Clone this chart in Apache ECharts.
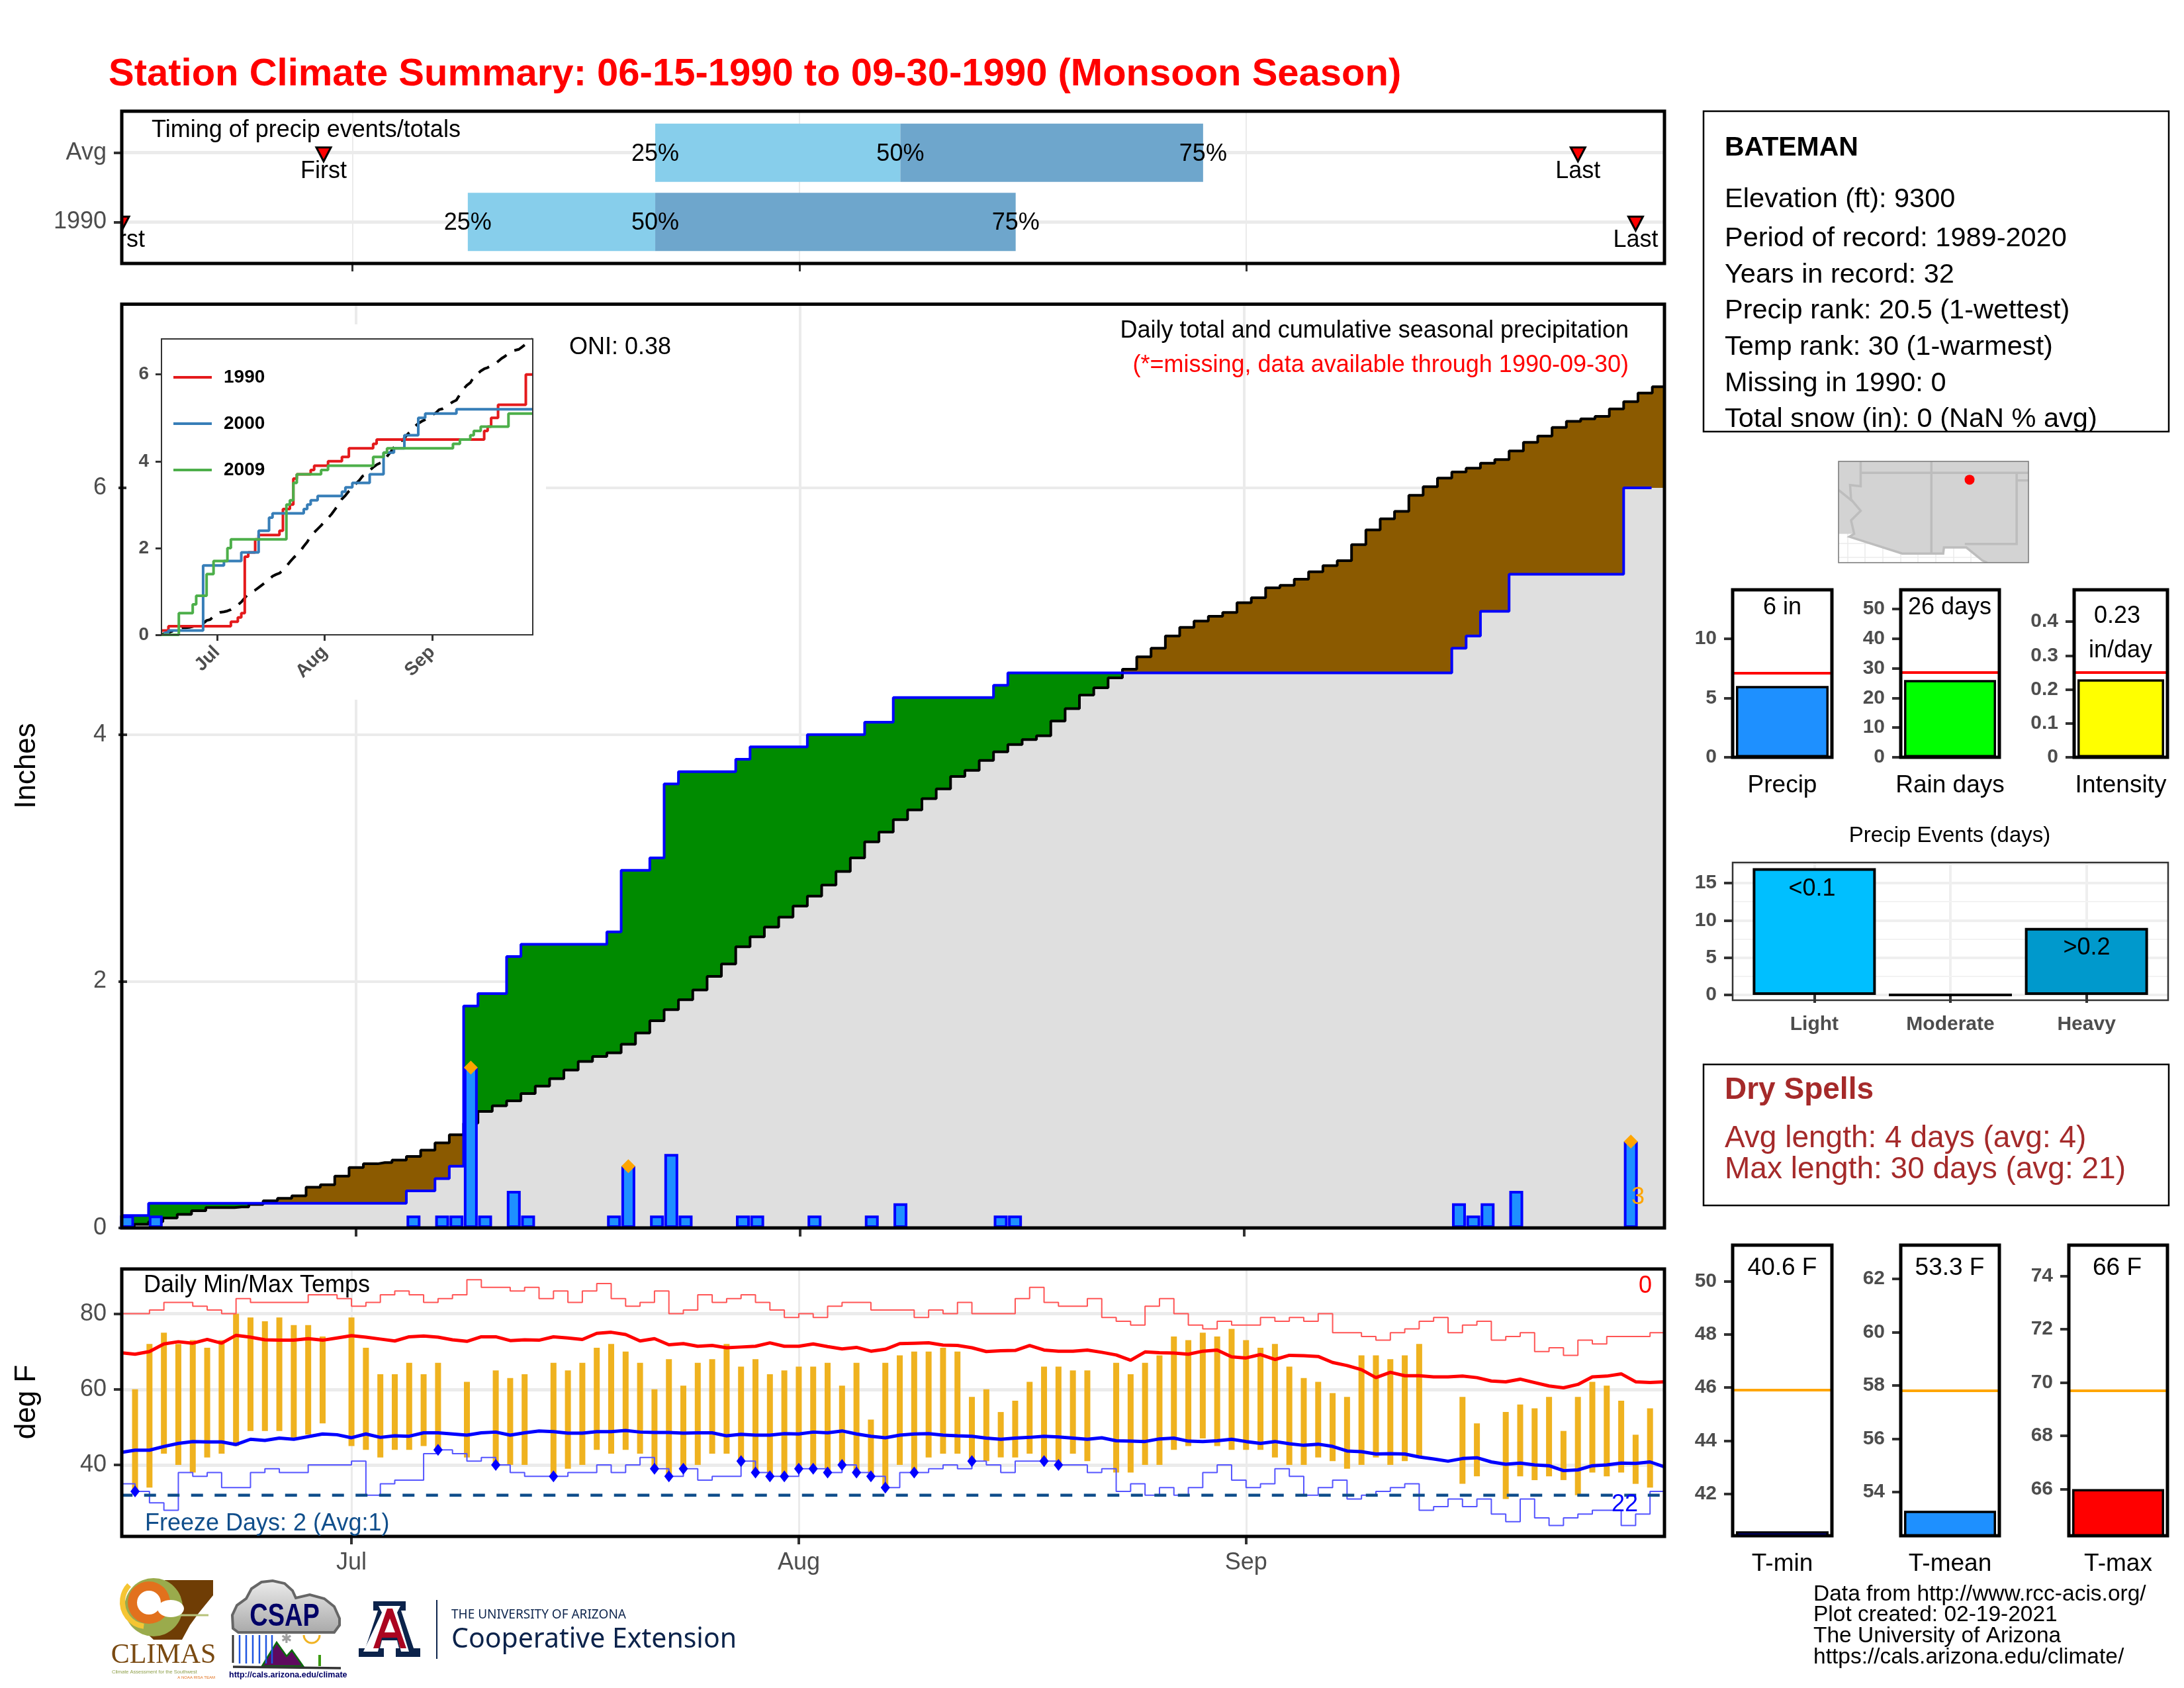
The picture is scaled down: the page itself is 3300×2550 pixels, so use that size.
<!DOCTYPE html>
<html>
<head>
<meta charset="utf-8">
<title>Station Climate Summary</title>
<script src="https://cdn.jsdelivr.net/npm/echarts@6/dist/echarts.min.js"></script>
<style>
html,body{margin:0;padding:0;background:#fff}
#chart{width:3300px;height:2550px}
</style>
</head>
<body>
<div id="chart"></div>
<script>
// day index 0 = Jun 15, 107 = Sep 30
var monthTicks = [16, 47, 78];
var monthNames = ["Jul", "Aug", "Sep"];

// daily precip (in)
var precipDaily = [
  0.1,0,0.1,0,0,0,0,0,0,0,
  0,0,0,0,0,0,0,0,0,0,
  0.1,0,0.1,0.1,1.3,0.1,0,0.3,0.1,0,
  0,0,0,0,0.1,0.5,0,0.1,0.6,0.1,
  0,0,0,0.1,0.1,0,0,0,0.1,0,
  0,0,0.1,0,0.2,0,0,0,0,0,
  0,0.1,0.1,0,0,0,0,0,0,0,
  0,0,0,0,0,0,0,0,0,0,
  0,0,0,0,0,0,0,0,0,0,
  0,0,0,0.2,0.1,0.2,0,0.3,0,0,
  0,0,0,0,0,0.7,0,0
];
var precipCum1990 = [
  0.1,0.1,0.2,0.2,0.2,0.2,0.2,0.2,0.2,0.2,
  0.2,0.2,0.2,0.2,0.2,0.2,0.2,0.2,0.2,0.2,
  0.3,0.3,0.4,0.5,1.8,1.9,1.9,2.2,2.3,2.3,
  2.3,2.3,2.3,2.3,2.4,2.9,2.9,3.0,3.6,3.7,
  3.7,3.7,3.7,3.8,3.9,3.9,3.9,3.9,4.0,4.0,
  4.0,4.0,4.1,4.1,4.3,4.3,4.3,4.3,4.3,4.3,
  4.3,4.4,4.5,4.5,4.5,4.5,4.5,4.5,4.5,4.5,
  4.5,4.5,4.5,4.5,4.5,4.5,4.5,4.5,4.5,4.5,
  4.5,4.5,4.5,4.5,4.5,4.5,4.5,4.5,4.5,4.5,
  4.5,4.5,4.5,4.7,4.8,5.0,5.0,5.3,5.3,5.3,
  5.3,5.3,5.3,5.3,5.3,6.0,6.0,6.0
];
var precipCumAvg = [
  0.01,0.03,0.05,0.08,0.11,0.14,0.165,0.165,0.17,0.19,
  0.22,0.24,0.26,0.33,0.35,0.42,0.49,0.52,0.53,0.55,
  0.58,0.63,0.69,0.755,0.85,0.945,0.99,1.03,1.09,1.15,
  1.21,1.28,1.35,1.39,1.42,1.49,1.58,1.68,1.77,1.85,
  1.93,2.04,2.14,2.28,2.36,2.44,2.52,2.61,2.69,2.78,
  2.89,3.00,3.13,3.21,3.31,3.39,3.48,3.56,3.66,3.71,
  3.79,3.86,3.92,3.96,3.99,4.11,4.21,4.32,4.38,4.46,
  4.53,4.63,4.70,4.80,4.87,4.92,4.96,4.99,5.07,5.11,
  5.19,5.21,5.26,5.32,5.37,5.41,5.54,5.66,5.75,5.81,
  5.94,6.01,6.08,6.13,6.16,6.20,6.23,6.30,6.37,6.42,
  6.49,6.54,6.56,6.58,6.64,6.70,6.77,6.82
];
var precipCum2000 = [
  0,0.05,0.1,0.1,0.1,0.1,0.1,0.1,0.1,0.1,
  0.1,0.1,1.6,1.6,1.6,1.6,1.6,1.6,1.7,1.7,
  1.7,1.7,1.7,1.9,1.9,1.9,1.9,1.9,2.4,2.4,
  2.4,2.7,2.8,2.8,2.8,2.8,2.8,2.8,2.8,2.8,
  2.8,2.9,3.0,3.1,3.1,3.2,3.2,3.2,3.2,3.2,
  3.2,3.2,3.3,3.4,3.4,3.5,3.5,3.5,3.5,3.5,
  3.7,3.7,3.7,3.7,4.2,4.2,4.2,4.3,4.3,4.3,
  4.6,4.6,4.6,4.6,5.0,5.0,5.1,5.1,5.1,5.1,
  5.1,5.1,5.1,5.1,5.1,5.2,5.2,5.2,5.2,5.2,
  5.2,5.2,5.2,5.2,5.2,5.2,5.2,5.2,5.2,5.2,
  5.2,5.2,5.2,5.2,5.2,5.2,5.2,5.2
];
var precipCum2009 = [
  0,0,0,0,0,0.5,0.5,0.5,0.5,0.7,
  0.9,0.9,0.9,1.4,1.4,1.7,1.7,1.7,1.7,2.0,
  2.2,2.2,2.2,2.2,2.2,2.2,2.2,2.2,2.2,2.2,
  2.2,2.2,2.2,2.2,2.2,2.2,3.0,3.1,3.5,3.7,
  3.7,3.7,3.7,3.7,3.7,3.7,3.8,3.8,3.9,3.9,
  3.9,3.9,3.9,3.9,3.9,3.9,3.9,3.9,3.9,3.9,
  3.9,4.1,4.1,4.1,4.2,4.3,4.3,4.3,4.3,4.3,
  4.3,4.3,4.3,4.3,4.3,4.3,4.3,4.3,4.3,4.3,
  4.3,4.3,4.3,4.3,4.4,4.4,4.5,4.5,4.5,4.6,
  4.7,4.7,4.8,4.8,4.8,4.8,4.8,4.8,4.8,4.8,
  5.1,5.1,5.1,5.1,5.1,5.1,5.1,5.1
];
var extremeDays = [24, 35, 105];

// timing strip
var timingRows = ["Avg", "1990"];
var timingFirst = [14, 0];
var timingQ25 = [37, 24];
var timingQ50 = [54, 37];
var timingQ75 = [75, 62];
var timingLast = [101, 105];

// daily temps (F), null = missing
var tmax = [
  null,60,72,75,72,73,71,73,80,79,
  78,79,77,77,74,null,79,71,64,64,
  67,64,67,null,62,null,65,63,64,null,
  67,65,67,71,72,70,67,60,68,61,
  67,68,72,66,68,64,65,66,66,67,
  61,67,52,67,69,70,70,71,70,58,
  60,54,57,62,66,66,65,65,null,67,
  64,67,69,74,73,75,74,76,73,71,
  72,66,63,62,59,58,69,69,68,69,
  72,null,null,58,51,null,54,56,55,58,
  49,58,62,61,57,48,55,null
];
var tmin = [
  null,33,34,43,40,38,42,43,45,49,
  49,49,47,48,51,null,45,44,42,44,
  44,45,44,null,42,null,40,40,40,null,
  37,39,40,44,43,44,43,39,37,39,
  40,43,43,41,38,37,37,39,39,38,
  40,38,37,34,40,38,42,43,43,41,
  41,42,42,43,41,40,43,41,null,38,
  38,40,40,44,45,47,45,44,44,44,
  42,40,40,42,41,39,40,42,40,41,
  42,null,null,35,37,null,31,37,36,37,
  36,32,38,37,38,35,34,null
];
var tmaxAvg = [
  69.7,69.3,70,72,72.6,72.2,73.2,72.2,74.3,73.8,
  73.1,73,73,73.4,73,73.6,74.2,73.8,73.3,72.8,
  73.9,74.1,73.8,73.1,72.7,73.9,73.9,72.9,73.1,73,
  73.9,73.6,73.2,74.8,75.1,74.5,72.8,73.4,71.8,72.1,
  71.4,71.6,71,71.2,71.4,72.3,71.4,71.4,72,71.3,
  70.7,71.1,70.1,70.6,72.1,72.2,72.3,71.7,71.6,71,
  70,70.2,70.3,71.6,70.4,70.1,70.1,70.4,69.8,69.1,
  67.7,69.9,69.7,69.6,69.3,70.1,70.4,68.6,68.3,69.2,
  67.9,69,68.9,68.7,67.1,66.3,65.2,63.1,64.5,63.6,
  63.6,63.3,63.3,63.5,63.1,62.2,62,62.7,61.8,60.9,
  60.4,61.3,63.3,63.5,64.1,62,61.8,62
];
var tminAvg = [
  43.3,43.9,43.9,44.9,45.7,46.2,46.1,46.1,45.4,46.8,
  46.5,47.1,46.8,47.5,48.2,48,47.2,48.2,47.3,47.7,
  47.6,48.5,48.5,48.2,47.9,48.5,48.7,47.9,48.5,49,
  48.8,48.4,48.4,48.8,48.8,49.1,48.7,48.6,48.6,48.4,
  48.5,48.5,47.7,48.1,47.9,47.9,48.3,48.2,48.7,48.5,
  49,48.2,47.6,47.2,47.9,48.2,48.3,47.9,47.7,47.6,
  47.1,46.8,47.1,47.3,47.6,47.4,47.1,46.8,47.2,46.4,
  46.3,46.2,46.9,47.1,46.3,46.2,46.4,46.8,46.2,45.7,
  46.2,45.6,45.2,45.5,44.9,43.7,43.5,42.9,43,42.9,
  42.1,41.6,41,41.7,41.9,40.8,40.2,40.5,40,39.8,
  38.5,38.7,39.8,40,40.5,40.4,40.8,39.5
];
var tmaxRecord = [
  80,80,81,83,83,82,81,80,84,83,
  83,83,83,85,85,84,82,83,85,86,
  85,83,84,85,89,87,87,86,87,84,
  86,83,86,88,84,82,83,86,80,81,
  85,83,84,85,83,81,79,80,79,82,
  83,83,81,81,81,79,81,80,83,80,
  80,80,84,87,83,82,82,84,79,78,
  77,82,84,80,77,76,78,77,77,79,
  78,79,78,80,75,75,74,73,75,76,
  78,79,75,77,78,73,74,75,70,71,
  69,73,72,74,74,74,75,75
];
var tminRecord = [
  35,33,30,28,38,37,38,34,34,38,
  39,38,38,40,40,40,41,32,35,36,
  36,43,44,43,41,42,40,38,37,37,
  37,38,38,40,38,40,42,39,37,39,
  36,37,37,41,38,37,37,39,39,38,
  40,38,37,34,38,38,39,40,39,41,
  40,38,41,41,41,40,40,38,39,33,
  35,32,34,32,34,38,40,36,34,35,
  39,37,32,34,36,31,32,33,34,35,
  28,29,31,29,31,27,25,31,26,24,
  26,27,28,28,24,27,33,33
];
var recordLowDays = [1,22,26,30,37,38,39,43,44,45,46,47,48,49,50,51,52,53,55,59,64,65];
var freezeLine = 32;

// right hand panels
var summaryNames = ["Precip", "Rain days", "Intensity"];
var summaryValues = [6, 26, 0.23];
var summaryAvgs = [7.1, 28.5, 0.249];
var summaryColors = ["#1E90FF", "#00FF00", "#FFFF00"];
var eventNames = ["Light", "Moderate", "Heavy"];
var eventValues = [17, 0, 9];
var eventColors = ["#00BFFF", "#00BFFF", "#0099CC"];
var eventMinor = [2.5, 7.5, 12.5, 17.5];
var tempNames = ["T-min", "T-mean", "T-max"];
var tempValues = [40.6, 53.3, 66];
var tempAvgs = [45.9, 57.82, 69.7];
var tempColors = ["#0000FF", "#1E90FF", "#FF0000"];

// locator map, degrees
var mapStation = [-106.34, 36.5];
var mapLand = [[-115.64,37.8],[-102.16,37.8],[-102.16,30.61],[-105.09,30.61],[-105.44,30.77],[-106.34,31.53],[-106.57,31.69],[-108.16,31.69],[-108.21,31.26],[-111.12,31.26],[-114.87,32.45],[-114.53,32.66],[-115.64,32.66]];
var mapLines = [
  [[-115.64,35.77],[-114.64,34.96]],
  [[-114.07,37.8],[-114.07,36.04],[-114.82,36.12],[-114.75,35.1],[-114.07,34.29],[-114.75,33.61],[-114.53,32.66],[-114.87,32.45],[-111.12,31.26],[-108.21,31.26],[-108.16,31.69],[-106.57,31.69],[-105.44,30.77],[-105.09,30.61]],
  [[-114.07,36.99],[-102.16,36.99]],
  [[-109.05,37.8],[-109.05,31.26]],
  [[-103,36.99],[-103,31.94],[-106.68,31.94]],
  [[-103,36.45],[-102.16,36.45]]
];
var mapGridLon = [-115,-113.75,-112.5,-111.25,-110,-108.75,-107.5,-106.25];
var mapGridLat = [32,31];

var font = '"Liberation Sans"';
var grayText = "#4D4D4D";
var gridGray = "#EBEBEB";

function box(l, t, r, b) {
  return { left: l, top: t, width: r - l, height: b - t };
}
var layout = {
  top: box(184, 168, 2515, 398),
  main: box(184, 459.5, 2515, 1855),
  bottom: box(184, 1917, 2515, 2321),
  inset: box(244, 512, 805, 959),
  map: box(2778, 697, 3065, 850),
  events: box(2618, 1303, 3276, 1511),
  summary: [box(2618, 891, 2768, 1144), box(2872, 891, 3021, 1144), box(3134, 891, 3275, 1144)],
  temp: [box(2618, 1881, 2768, 2320), box(2872, 1881, 3021, 2320), box(3126, 1881, 3275, 2320)]
};
var summaryScale = [{ max: 14.1, ticks: [0, 5, 10] }, { max: 56.4, ticks: [0, 10, 20, 30, 40, 50] }, { max: 0.494, ticks: [0, 0.1, 0.2, 0.3, 0.4] }];
var tempScale = [
  { min: 40.43, max: 51.35, ticks: [42, 44, 46, 48, 50] },
  { min: 52.36, max: 63.27, ticks: [54, 56, 58, 60, 62] },
  { min: 64.25, max: 75.16, ticks: [66, 68, 70, 72, 74] }
];

var grids = [], xAxes = [], yAxes = [], series = [], gfx = [];

function addGrid(b) {
  grids.push(b);
  return grids.length - 1;
}
function pairs(vals) {
  return vals.map(function(v, i) { return [i, v]; });
}
// extend a step line past both panel edges
function padded(vals) {
  var out = pairs(vals);
  out.unshift([-1, vals[0]]);
  out.push([108, vals[vals.length - 1]]);
  return out;
}
function txt(text, x, y, size, color, extra) {
  extra = extra || {};
  return {
    type: "text", z: 60, silent: true, x: x, y: y + 3,
    scaleY: extra.scaleY || 1,
    style: {
      text: text, fill: color || "#000",
      font: (extra.bold ? "bold " : "") + size + "px " + (extra.family || font),
      textAlign: extra.align || "left", textVerticalAlign: "middle"
    },
    rotation: extra.rotation || 0
  };
}
function frame(b, width, color) {
  return {
    type: "rect", z: 50, silent: true,
    shape: { x: b.left, y: b.top, width: b.width, height: b.height },
    style: { fill: "none", stroke: color || "#000", lineWidth: width }
  };
}

// ---------- timing strip
var gTop = addGrid(layout.top);
xAxes.push({
  gridIndex: gTop, type: "value", min: 0, max: 107,
  axisLine: { show: false }, axisLabel: { show: false },
  axisTick: { show: true, length: 12, customValues: monthTicks, lineStyle: { color: "#333", width: 3 } },
  splitLine: { show: true, lineStyle: { color: gridGray, width: 2 } }
});
yAxes.push({
  gridIndex: gTop, type: "value", min: 0.4, max: 2.6, inverse: true,
  axisLine: { show: false },
  axisTick: { show: true, length: 12, customValues: [1, 2], lineStyle: { color: "#333", width: 4 } },
  axisLabel: { customValues: [1, 2], fontSize: 36, color: grayText, margin: 23, formatter: function(v) { return timingRows[v - 1]; } },
  splitLine: { show: true, lineStyle: { color: gridGray, width: 5 } }
});
series.push({
  type: "custom", xAxisIndex: gTop, yAxisIndex: gTop, z: 3, clip: true, silent: true,
  data: timingRows.map(function(n, i) { return [i + 1, timingFirst[i], timingQ25[i], timingQ50[i], timingQ75[i], timingLast[i]]; }),
  encode: { x: [1, 5], y: 0 },
  renderItem: function(params, api) {
    var row = api.value(0);
    function span(a, b, color) {
      var p = api.coord([a, row - 0.42]), q = api.coord([b, row + 0.42]);
      return { type: "rect", shape: { x: p[0], y: p[1], width: q[0] - p[0], height: q[1] - p[1] }, style: { fill: color } };
    }
    function label(text, x, dy) {
      var p = api.coord([x, row]);
      return { type: "text", z2: 5, style: { text: text, x: p[0], y: p[1] + dy, fill: "#000", font: "36px " + font, align: "center", verticalAlign: "middle" } };
    }
    function marker(x) {
      var p = api.coord([x, row]);
      return { type: "polygon", z2: 5, shape: { points: [[p[0] - 11, p[1] - 8], [p[0] + 11, p[1] - 8], [p[0], p[1] + 13]] }, style: { fill: "#FF0000", stroke: "#000", lineWidth: 3 } };
    }
    return {
      type: "group",
      children: [
        span(api.value(2), api.value(3), "#87CEEB"),
        span(api.value(3), api.value(4), "#6EA6CC"),
        label("25%", api.value(2), 2),
        label("50%", api.value(3), 2),
        label("75%", api.value(4), 2),
        marker(api.value(1)), marker(api.value(5)),
        label("First", api.value(1), 28),
        label("Last", api.value(5), 28)
      ]
    };
  }
});
gfx.push(frame(layout.top, 5));
gfx.push(txt("Timing of precip events/totals", 229, 194, 36));

// ---------- main precip panel
var gMain = addGrid(layout.main);
xAxes.push({
  gridIndex: gMain, type: "value", min: -0.37, max: 107.35,
  axisLine: { show: false }, axisLabel: { show: false },
  axisTick: { show: true, length: 13, customValues: monthTicks, lineStyle: { color: "#333", width: 4 } },
  splitLine: { show: true, lineStyle: { color: gridGray, width: 4 } }
});
yAxes.push({
  gridIndex: gMain, type: "value", min: 0, max: 7.49,
  axisLine: { show: false },
  axisTick: { show: true, length: 13, customValues: [0, 2, 4, 6], lineStyle: { color: "#333", width: 4 } },
  axisLabel: { customValues: [0, 2, 4, 6], fontSize: 36, color: grayText, margin: 23 },
  splitLine: { show: true, lineStyle: { color: gridGray, width: 4 } }
});
var cumFloor = precipCumAvg.map(function(v, i) { return Math.min(v, precipCum1990[i]); });
function mainArea(name, vals, color, z) {
  series.push({
    name: name, type: "line", xAxisIndex: gMain, yAxisIndex: gMain, step: "middle", z: z,
    showSymbol: false, silent: true, data: padded(vals),
    lineStyle: { width: 0 }, areaStyle: { color: color, opacity: 1 }
  });
}
mainArea("deficit", precipCumAvg, "#8B5A00", 2);
mainArea("surplus", precipCum1990, "#008B00", 3);
mainArea("floor", cumFloor, "#DFDFDF", 4);
series.push({
  name: "avg cumulative", type: "line", xAxisIndex: gMain, yAxisIndex: gMain, step: "middle", z: 5,
  showSymbol: false, silent: true, data: padded(precipCumAvg), lineStyle: { color: "#000", width: 4 }
});
series.push({
  name: "daily precip", type: "bar", xAxisIndex: gMain, yAxisIndex: gMain, z: 6, barWidth: 21, silent: true,
  data: precipDaily.map(function(v, i) { return [i, v > 0 ? v : null]; }),
  itemStyle: { color: "#1E90FF", borderColor: "#0000FF", borderWidth: 4 }
});
series.push({
  name: "cumulative 1990", type: "line", xAxisIndex: gMain, yAxisIndex: gMain, step: "middle", z: 7,
  showSymbol: false, silent: true,
  data: [[-1, precipCum1990[0]]].concat(pairs(precipCum1990).slice(0, 107), [[106.45, precipCum1990[106]]]),
  lineStyle: { color: "#0000FF", width: 4 }
});
series.push({
  name: "extreme days", type: "scatter", xAxisIndex: gMain, yAxisIndex: gMain, z: 8, symbol: "diamond", symbolSize: 21, silent: true,
  data: extremeDays.map(function(d) { return [d, precipDaily[d]]; }),
  itemStyle: { color: "#FFA500", opacity: 1 }
});
// keep gridlines away from the inset
gfx.push({ type: "rect", z: 1, silent: true, shape: { x: 191, y: 490, width: 634, height: 567 }, style: { fill: "#fff" } });
gfx.push(frame(layout.main, 5));
gfx.push(txt("ONI: 0.38", 860, 522, 36));
gfx.push(txt("Daily total and cumulative seasonal precipitation", 2461, 497, 36, "#000", { align: "right" }));
gfx.push(txt("(*=missing, data available through 1990-09-30)", 2461, 549, 36, "#FF0000", { align: "right" }));
gfx.push(txt("3", 2475, 1806, 36, "#FFA500", { align: "center" }));
gfx.push(txt("Inches", 41, 1154, 44, "#000", { align: "center", rotation: Math.PI / 2 }));
gfx.push(txt("deg F", 41, 2115, 44, "#000", { align: "center", rotation: Math.PI / 2 }));

// ---------- inset
var gInset = addGrid(layout.inset);
xAxes.push({
  gridIndex: gInset, type: "value", min: 0, max: 107, z: 5,
  axisLine: { show: false }, splitLine: { show: false },
  axisTick: { show: true, length: 9, customValues: monthTicks, lineStyle: { color: "#333", width: 3 } },
  axisLabel: {
    customValues: monthTicks, fontSize: 28, fontWeight: "bold", color: grayText, rotate: 45, margin: 22,
    formatter: function(v) { return monthNames[monthTicks.indexOf(v)]; }
  }
});
yAxes.push({
  gridIndex: gInset, type: "value", min: 0, max: 6.82, z: 5,
  axisLine: { show: false }, splitLine: { show: false },
  axisTick: { show: true, length: 9, customValues: [0, 2, 4, 6], lineStyle: { color: "#333", width: 3 } },
  axisLabel: { customValues: [0, 2, 4, 6], fontSize: 28, fontWeight: "bold", color: grayText, margin: 19 }
});
function insetLine(name, vals, color, z) {
  series.push({
    name: name, type: "line", xAxisIndex: gInset, yAxisIndex: gInset, step: "end", z: z, color: color,
    showSymbol: false, symbol: "none", silent: true, data: pairs(vals), lineStyle: { color: color, width: 4 }
  });
}
series.push({
  name: "Avg", type: "line", xAxisIndex: gInset, yAxisIndex: gInset, z: 6,
  showSymbol: false, symbol: "none", silent: true, data: pairs(precipCumAvg),
  lineStyle: { color: "#000", width: 4, type: [18, 14] }
});
insetLine("1990", precipCum1990, "#E41A1C", 7);
insetLine("2000", precipCum2000, "#377EB8", 8);
insetLine("2009", precipCum2009, "#4DAF4A", 9);
gfx.push(frame(layout.inset, 2, "#333"));

// ---------- temperature panel
var gBottom = addGrid(layout.bottom);
xAxes.push({
  gridIndex: gBottom, type: "value", min: 0.08, max: 107,
  axisLine: { show: false },
  axisTick: { show: true, length: 12, customValues: monthTicks, lineStyle: { color: "#333", width: 4 } },
  axisLabel: {
    customValues: monthTicks, fontSize: 36, color: grayText, margin: 22,
    formatter: function(v) { return monthNames[monthTicks.indexOf(v)]; }
  },
  splitLine: { show: true, lineStyle: { color: gridGray, width: 3 } }
});
yAxes.push({
  gridIndex: gBottom, type: "value", min: 21.1, max: 91.84,
  axisLine: { show: false },
  axisTick: { show: true, length: 12, customValues: [40, 60, 80], lineStyle: { color: "#333", width: 4 } },
  axisLabel: { customValues: [40, 60, 80], fontSize: 36, color: grayText, margin: 23 },
  splitLine: { show: true, lineStyle: { color: gridGray, width: 5 } }
});
function tempLine(name, vals, color, width, z, step) {
  series.push({
    name: name, type: "line", xAxisIndex: gBottom, yAxisIndex: gBottom, z: z, step: step || false,
    showSymbol: false, symbol: "none", silent: true, data: pairs(vals), lineStyle: { color: color, width: width }
  });
}
series.push({
  name: "daily range", type: "custom", xAxisIndex: gBottom, yAxisIndex: gBottom, z: 3, silent: true, clip: true,
  data: tmax.map(function(v, i) { return [i, tmin[i], v]; }).filter(function(d) { return d[2] !== null; }),
  encode: { x: 0, y: [1, 2] },
  renderItem: function(params, api) {
    var a = api.coord([api.value(0), api.value(2)]), b = api.coord([api.value(0), api.value(1)]);
    return { type: "rect", shape: { x: a[0] - 4.5, y: a[1], width: 9, height: b[1] - a[1] }, style: { fill: "#EFB21F" } };
  }
});
tempLine("record high", tmaxRecord, "#FF5555", 2, 4, "end");
tempLine("record low", tminRecord, "#5555FF", 2, 4, "end");
series.push({
  name: "freeze", type: "line", xAxisIndex: gBottom, yAxisIndex: gBottom, z: 5, showSymbol: false, symbol: "none", silent: true,
  data: [[0, freezeLine], [108, freezeLine]], lineStyle: { color: "#104E8B", width: 4.5, type: [18, 17.5] }
});
tempLine("avg max", tmaxAvg, "#FF0000", 5, 6);
tempLine("avg min", tminAvg, "#0000FF", 5, 6);
series.push({
  name: "record lows", type: "scatter", xAxisIndex: gBottom, yAxisIndex: gBottom, z: 7, symbol: "diamond", symbolSize: [14, 18], silent: true,
  data: recordLowDays.map(function(d) { return [d, tmin[d]]; }), itemStyle: { color: "#0000FF", opacity: 1 }
});
gfx.push(frame(layout.bottom, 5));
gfx.push(txt("Daily Min/Max Temps", 217, 1939, 36));
gfx.push(txt("0", 2486, 1940, 36, "#FF0000", { align: "center" }));
gfx.push(txt("Freeze Days: 2 (Avg:1)", 219, 2299, 36, "#104E8B"));
gfx.push(txt("22", 2455, 2270, 36, "#0000FF", { align: "center" }));

// ---------- summary bars
function smallBar(b, name, value, avg, color, scale, avgColor, labelMargin) {
  var g = addGrid(b);
  xAxes.push({
    gridIndex: g, type: "category", data: [name],
    axisLine: { show: false }, axisTick: { show: false }, splitLine: { show: false },
    axisLabel: { fontSize: 37, color: "#000", margin: labelMargin, interval: 0 }
  });
  yAxes.push({
    gridIndex: g, type: "value", min: scale.min || 0, max: scale.max,
    axisLine: { show: false }, splitLine: { show: false },
    axisTick: { show: true, length: 13, customValues: scale.ticks, lineStyle: { color: "#333", width: 4 } },
    axisLabel: { customValues: scale.ticks, fontSize: 30, fontWeight: "bold", color: grayText, margin: 24 }
  });
  series.push({
    name: name, type: "bar", xAxisIndex: g, yAxisIndex: g, barWidth: b.width - 10, silent: true, z: 3,
    data: [value], itemStyle: { color: color, borderColor: "#000", borderWidth: 3.5 },
    markLine: {
      silent: true, symbol: "none", label: { show: false }, animation: false,
      data: [{ yAxis: avg }], lineStyle: { color: avgColor, width: 4, type: "solid" }
    }
  });
  gfx.push(frame(b, 5));
}
for (var i = 0; i < summaryNames.length; i++) {
  smallBar(layout.summary[i], summaryNames[i], summaryValues[i], summaryAvgs[i], summaryColors[i], summaryScale[i], "#FF0000", 24);
}
for (var j = 0; j < tempNames.length; j++) {
  smallBar(layout.temp[j], tempNames[j], tempValues[j], tempAvgs[j], tempColors[j], tempScale[j], "#FFA500", 24);
}
gfx.push(txt("6 in", 2693, 915, 36, "#000", { align: "center" }));
gfx.push(txt("26 days", 2946, 915, 36, "#000", { align: "center" }));
gfx.push(txt("0.23", 3199, 928, 36, "#000", { align: "center" }));
gfx.push(txt("in/day", 3204, 980, 36, "#000", { align: "center" }));
gfx.push(txt("40.6 F", 2693, 1913, 37, "#000", { align: "center" }));
gfx.push(txt("53.3 F", 2946, 1913, 37, "#000", { align: "center" }));
gfx.push(txt("66 F", 3199, 1913, 37, "#000", { align: "center" }));

// ---------- precip events
var gEvents = addGrid(layout.events);
xAxes.push({
  gridIndex: gEvents, type: "value", min: 0.4, max: 3.6,
  axisLine: { show: false },
  axisTick: { show: true, length: 12, customValues: [1, 2, 3], lineStyle: { color: "#333", width: 4 } },
  axisLabel: { customValues: [1, 2, 3], fontSize: 30, fontWeight: "bold", color: grayText, margin: 22, formatter: function(v) { return eventNames[v - 1]; } },
  splitLine: { show: true, lineStyle: { color: "#EFEFEF", width: 4 } }
});
yAxes.push({
  gridIndex: gEvents, type: "value", min: -0.7, max: 17.75,
  axisLine: { show: false },
  axisTick: { show: true, length: 13, customValues: [0, 5, 10, 15], lineStyle: { color: "#333", width: 4 } },
  axisLabel: { customValues: [0, 5, 10, 15], fontSize: 30, fontWeight: "bold", color: grayText, margin: 24 },
  splitLine: { show: true, lineStyle: { color: "#EFEFEF", width: 4 } }
});
series.push({
  name: "events", type: "bar", xAxisIndex: gEvents, yAxisIndex: gEvents, barWidth: 186, silent: true, z: 3,
  data: eventValues.map(function(v, i) { return { value: [i + 1, v], itemStyle: { color: eventColors[i] } }; }),
  itemStyle: { borderColor: "#000", borderWidth: 4 },
  markLine: {
    silent: true, symbol: "none", label: { show: false }, animation: false, z: 1,
    data: eventMinor.map(function(v) { return { yAxis: v }; }), lineStyle: { color: "#F2F2F2", width: 2, type: "solid" }
  }
});
gfx.push(frame(layout.events, 2.5, "#333"));
gfx.push(txt("Precip Events (days)", 2946, 1260, 33, "#000", { align: "center" }));
gfx.push(txt("<0.1", 2738, 1340, 36, "#000", { align: "center" }));
gfx.push(txt(">0.2", 3153, 1429, 36, "#000", { align: "center" }));

// ---------- locator map
var gMap = addGrid(layout.map);
xAxes.push({
  gridIndex: gMap, type: "value", min: -115.64, max: -102.16,
  axisLine: { show: false }, axisLabel: { show: false },
  axisTick: { show: false, customValues: mapGridLon },
  splitLine: { show: true, lineStyle: { color: gridGray, width: 1.5 } }
});
yAxes.push({
  gridIndex: gMap, type: "value", min: 30.61, max: 37.8,
  axisLine: { show: false }, axisLabel: { show: false },
  axisTick: { show: false, customValues: mapGridLat },
  splitLine: { show: true, lineStyle: { color: gridGray, width: 1.5 } }
});
series.push({
  name: "map", type: "custom", xAxisIndex: gMap, yAxisIndex: gMap, z: 3, clip: true, silent: true,
  data: [[mapStation[0], mapStation[1]]],
  renderItem: function(params, api) {
    var kids = [{ type: "polygon", shape: { points: mapLand.map(function(p) { return api.coord(p); }) }, style: { fill: "#D3D3D3" } }];
    mapLines.forEach(function(line) {
      kids.push({ type: "polyline", shape: { points: line.map(function(p) { return api.coord(p); }) }, style: { fill: "none", stroke: "#BDBDBD", lineWidth: 3.5 } });
    });
    return { type: "group", children: kids };
  }
});
series.push({
  name: "station", type: "scatter", xAxisIndex: gMap, yAxisIndex: gMap, z: 4, symbolSize: 15, silent: true,
  data: [mapStation], itemStyle: { color: "#FF0000", opacity: 1 }
});
gfx.push(frame(layout.map, 1.5, "#777"));

// ---------- station info boxes
gfx.push(frame(box(2574, 168, 3277, 652), 2.5));
gfx.push(txt("BATEMAN", 2606, 221, 41, "#000", { bold: true }));
var infoLines = ["Elevation (ft): 9300", "Period of record: 1989-2020", "Years in record: 32", "Precip rank: 20.5 (1-wettest)", "Temp rank: 30 (1-warmest)", "Missing in 1990: 0", "Total snow (in): 0 (NaN % avg)"];
var infoY = [299, 358, 413, 467, 522, 577, 631];
infoLines.forEach(function(t, i) { gfx.push(txt(t, 2606, infoY[i], 41.5)); });

gfx.push(frame(box(2574, 1608, 3277, 1821), 2.5));
gfx.push(txt("Dry Spells", 2606, 1644, 46, "#A52A2A", { bold: true }));
gfx.push(txt("Avg length: 4 days (avg: 4)", 2606, 1717, 46, "#A52A2A"));
gfx.push(txt("Max length: 30 days (avg: 21)", 2606, 1764, 46, "#A52A2A"));

var footer = ["Data from http://www.rcc-acis.org/", "Plot created: 02-19-2021", "The University of Arizona", "https://cals.arizona.edu/climate/"];
var footerY = [2406, 2437, 2469, 2501];
footer.forEach(function(t, i) { gfx.push(txt(t, 2740, footerY[i], 33.5)); });

gfx.push(txt("Station Climate Summary: 06-15-1990 to 09-30-1990 (Monsoon Season)", 164, 110, 58, "#FF0000", { bold: true }));

// ---------- logos
function poly(points, fill, stroke, width) {
  return { type: "polygon", z: 40, silent: true, shape: { points: points }, style: { fill: fill, stroke: stroke || "none", lineWidth: width || 0 } };
}
function seg(x1, y1, x2, y2, color, width) {
  return { type: "line", z: 41, silent: true, shape: { x1: x1, y1: y1, x2: x2, y2: y2 }, style: { stroke: color, lineWidth: width } };
}
// CLIMAS
gfx.push(poly([[249,2387],[322,2387],[322,2410],[300,2437],[287,2455],[275,2477],[232,2477],[214,2460],[250,2440]], "#6F3D05"));
gfx.push({ type: "circle", z: 40, silent: true, shape: { cx: 232, cy: 2428, r: 44 }, style: { fill: "#9AAB4C" } });
gfx.push({ type: "circle", z: 41, silent: true, shape: { cx: 225, cy: 2421, r: 20 }, style: { fill: "#fff" } });
gfx.push({ type: "ring", z: 41, silent: true, shape: { cx: 225, cy: 2421, r: 32, r0: 18 }, style: { fill: "#E2711D" } });
gfx.push({ type: "ellipse", z: 42, silent: true, shape: { cx: 258, cy: 2430, rx: 20, ry: 13 }, style: { fill: "#fff" } });
gfx.push({ type: "arc", z: 42, silent: true, shape: { cx: 222, cy: 2420, r: 37, startAngle: 1.7, endAngle: 3.9 }, style: { fill: "none", stroke: "#F5C533", lineWidth: 8 } });
gfx.push(seg(250, 2440, 315, 2440, "#B7C27A", 3));
gfx.push(txt("CLIMAS", 247, 2498, 42, "#7A4A12", { align: "center", family: '"Liberation Serif"' }));
gfx.push(txt("Climate Assessment for the Southwest", 169, 2523, 7.5, "#8FA04C"));
gfx.push(txt("A NOAA RISA TEAM", 325, 2531, 6, "#E2711D", { align: "right" }));
// CSAP
var cloudOutline = [[360,2466],[352,2460],[351,2440],[358,2425],[372,2415],[380,2400],[395,2390],[412,2388],[430,2392],[442,2403],[447,2414],[468,2409],[490,2415],[505,2427],[513,2445],[513,2455],[505,2466]];
gfx.push(poly(cloudOutline, new echarts.graphic.LinearGradient(0, 0, 0, 1, [{ offset: 0, color: "#EDEDED" }, { offset: 1, color: "#A8A8A8" }]), "#666", 4));
gfx.push(txt("CSAP", 430, 2440, 38, "#000066", { align: "center", bold: true, scaleY: 1.25 }));
[362, 372, 382, 392, 402, 411].forEach(function(x) { gfx.push(seg(x, 2470, x, 2513, "#1F55E0", 2.5)); });
gfx.push(poly([[396,2517],[418,2481],[433,2502],[441,2493],[458,2517]], "#5E0A5E", "#0A6B0A", 2.5));
gfx.push(seg(352, 2470, 352, 2512, "#333", 3));
gfx.push(seg(352, 2518, 515, 2520, "#333", 3.5));
gfx.push({ type: "arc", z: 41, silent: true, shape: { cx: 471, cy: 2470, r: 12, startAngle: 0, endAngle: Math.PI }, style: { fill: "none", stroke: "#F0B323", lineWidth: 3 } });
gfx.push(seg(483, 2500, 483, 2517, "#3C9A12", 4));
gfx.push(txt("✱", 433, 2474, 20, "#A0A0A0", { align: "center", family: '"DejaVu Sans"' }));
gfx.push(txt("http://cals.arizona.edu/climate", 346, 2528, 12.5, "#000066", { bold: true }));
// Arizona A
var aBlock = [[564,2419],[613,2419],[613,2433],[606,2433],[625,2490],[635,2490],[635,2503],[598,2503],[598,2490],[603,2490],[600,2478],[577,2478],[574,2490],[580,2490],[580,2503],[542,2503],[542,2490],[552,2490],[571,2433],[564,2433]];
gfx.push(poly(aBlock, "#0C234B"));
gfx.push(poly([[572,2426],[605,2426],[600,2436],[618,2495],[606,2495],[600,2471],[577,2471],[571,2495],[549,2495],[577,2436]], "#fff"));
gfx.push(poly([[585,2430],[593,2430],[614,2490],[605,2490],[600,2474],[577,2474],[573,2490],[564,2490]], "#AB0520"));
gfx.push(poly([[589,2445],[597,2466],[581,2466]], "#fff"));
gfx.push(seg(660, 2417, 660, 2506, "#0C234B", 2));
gfx.push(txt("THE UNIVERSITY OF ARIZONA", 682, 2437, 19, "#0C234B", { family: '"Noto Sans"' }));
gfx.push(txt("Cooperative Extension", 682, 2474, 41, "#0C234B", { family: '"Noto Sans"' }));

var chartTable = document.getElementById("chart");
var chart = echarts.init(chartTable);
chart.setOption({
  animation: false,
  backgroundColor: "#fff",
  textStyle: { fontFamily: font },
  tooltip: { show: false },
  legend: {
    data: [
      { name: "1990", icon: "rect", itemStyle: { color: "#E41A1C" } },
      { name: "2000", icon: "rect", itemStyle: { color: "#377EB8" } },
      { name: "2009", icon: "rect", itemStyle: { color: "#4DAF4A" } }
    ],
    orient: "vertical", left: 257, top: 551, z: 20,
    itemWidth: 58, itemHeight: 4, itemGap: 42,
    textStyle: { fontSize: 28, fontWeight: "bold", color: "#000", padding: [0, 0, 0, 13] }
  },
  grid: grids,
  xAxis: xAxes,
  yAxis: yAxes,
  series: series,
  graphic: { elements: gfx }
});
</script>
</body>
</html>
